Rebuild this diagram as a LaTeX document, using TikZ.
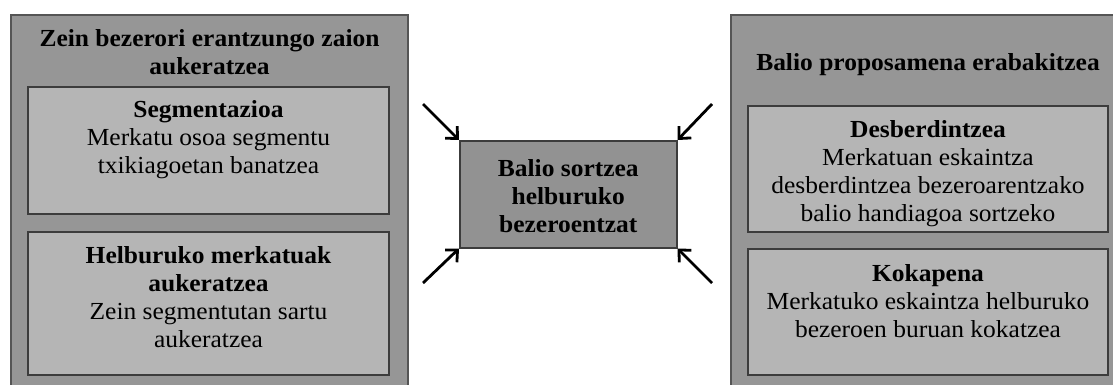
\documentclass[tikz,border=0pt]{standalone}
\usepackage{fontspec}
\setmainfont[FakeStretch=1.04]{Liberation Serif}
\usetikzlibrary{arrows.meta}

\definecolor{outerfill}{RGB}{150,150,150}
\definecolor{innerfill}{RGB}{181,181,181}
\definecolor{centerfill}{RGB}{146,146,146}
\definecolor{outeredge}{RGB}{85,85,85}
\definecolor{inneredge}{RGB}{60,60,60}

\begin{document}
\begin{tikzpicture}[x=1pt, y=-1pt,
  outerbox/.style={draw=outeredge, line width=2pt, fill=outerfill, anchor=north west, inner sep=0pt},
  innerbox/.style={draw=inneredge, line width=2pt, fill=innerfill, anchor=north west, inner sep=0pt},
  centerbox/.style={draw=inneredge, line width=1.5pt, fill=centerfill, anchor=north west, inner sep=0pt},
  boxtext/.style={align=center, font=\fontsize{24.5}{28}\selectfont, inner sep=0pt, anchor=north},
  pointer/.style={line width=2.8pt, -{Straight Barb[length=9pt, width=17pt, line width=2.8pt]}}
]
% page frame
\path[use as bounding box] (0,0) rectangle (1113,385);
\clip (0,0) rectangle (1113,385);
\fill[white] (0,0) rectangle (1113,385);

% left column: choosing the customers
\node[outerbox, minimum width=397, minimum height=390] (leftcol) at (10,14) {};
\node[boxtext] (lefttitle) at ([yshift=-15pt]leftcol.north) {\bfseries Zein bezerori erantzungo zaion\\\bfseries aukeratzea};
\node[innerbox, minimum width=361, minimum height=127] (seg) at (27,86) {};
\node[boxtext] (segtext) at ([yshift=-14pt]seg.north) {{\bfseries Segmentazioa}\\Merkatu osoa segmentu\\txikiagoetan banatzea};
\node[innerbox, minimum width=361, minimum height=143] (target) at (27,231) {};
\node[boxtext] (targettext) at ([yshift=-15pt]target.north) {{\bfseries Helburuko merkatuak}\\{\bfseries aukeratzea}\\Zein segmentutan sartu\\aukeratzea};

% right column: deciding the value proposition
\node[outerbox, minimum width=397, minimum height=390] (rightcol) at (730,14) {};
\node[innerbox, minimum width=360, minimum height=126] (diff) at (747,105) {};
\node[boxtext] (righttitle) at (diff.north |- 0,53) {\bfseries Balio proposamena erabakitzea};
\node[boxtext] (difftext) at ([yshift=-15pt]diff.north) {{\bfseries Desberdintzea}\\Merkatuan eskaintza\\desberdintzea bezeroarentzako\\balio handiagoa sortzeko};
\node[innerbox, minimum width=360, minimum height=126] (pos) at (747,248) {};
\node[boxtext] (postext) at ([yshift=-16pt]pos.north) {{\bfseries Kokapena}\\Merkatuko eskaintza helburuko\\bezeroen buruan kokatzea};

% centre: value creation
\node[centerbox, minimum width=217, minimum height=107] (core) at (459,140) {};
\node[boxtext, anchor=center] (coretext) at ([yshift=-2pt]core.center) {\bfseries Balio sortzea\\\bfseries helburuko\\\bfseries bezeroentzat};

% arrows pointing at the corners
\coordinate (tl) at (423,104);
\coordinate (tr) at (712,104);
\coordinate (bl) at (423,283);
\coordinate (br) at (712,283);
\draw[pointer] (tl) -- (core.north west);
\draw[pointer] (tr) -- (core.north east);
\draw[pointer] (bl) -- (core.south west);
\draw[pointer] (br) -- (core.south east);
\end{tikzpicture}
\end{document}
